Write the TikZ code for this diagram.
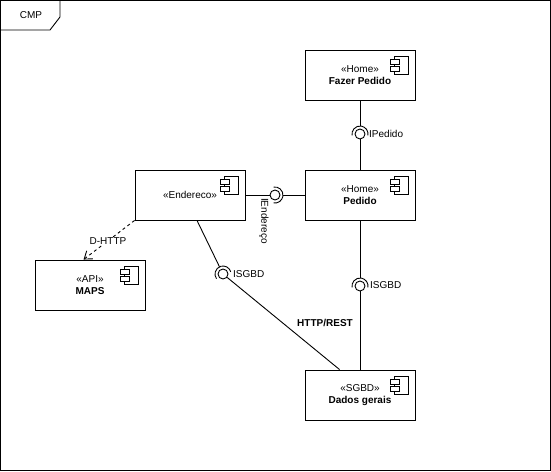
\documentclass[tikz,border=0pt]{standalone}
\usepackage{fontspec}
\setmainfont{Liberation Sans}
\usetikzlibrary{arrows.meta,calc}

% component icon in the top right corner of a component box
\newcommand\compicon[1]{%
  \draw[icon] ([shift={(-21,7)}]#1.north east) rectangle ([shift={(-7,25)}]#1.north east);
  \draw[icon,fill=white] ([shift={(-25,10)}]#1.north east) rectangle ([shift={(-16,15)}]#1.north east);
  \draw[icon,fill=white] ([shift={(-25,17)}]#1.north east) rectangle ([shift={(-16,22)}]#1.north east);
}

\begin{document}
\begin{tikzpicture}[x=1pt,y=-1pt,
  every node/.style={font=\fontsize{10}{12}\selectfont, inner sep=0pt},
  comp/.style={draw, line width=0.9pt, minimum width=110pt, minimum height=50pt,
    align=center, fill=white},
  icon/.style={line width=0.9pt},
  ball/.style={draw, circle, line width=0.9pt, minimum size=10pt},
  wire/.style={line width=0.9pt},
  socket/.style={line width=0.9pt},
  dep/.style={line width=0.9pt, dash pattern=on 3pt off 3pt,
    -{Straight Barb[length=7pt,width=10pt]}},
]
\useasboundingbox (0,0) rectangle (551,471);

% outer frame with its name tab
\draw[wire] (0.5,0.5) rectangle (550.5,470.5);
\draw[wire] (0.5,30) -- (50,30) -- (60,17) -- (60,0.5);
\node (lcmp) at (31,15) {CMP};

% components
\node[comp] (fazer)    at (360,75)  {«Home»\\\textbf{Fazer Pedido}};
\node[comp] (pedido)   at (360,195) {«Home»\\\textbf{Pedido}};
\node[comp] (endereco) at (190,195) {«Endereco»};
\node[comp] (maps)     at (90,285)  {«API»\\\textbf{MAPS}};
\node[comp] (dados)    at (360,395) {«SGBD»\\\textbf{Dados gerais}};
\foreach \c in {fazer,pedido,endereco,maps,dados} {\compicon{\c}}

% provided interfaces (balls)
\node[ball] (bpedido)   at (360,134) {};
\node[ball] (bendereco) at (275,195) {};
\node[ball] (bsgbda)    at (360,286) {};
\node[ball] (bsgbdb)    at (223,274) {};

% required interfaces (sockets) around the balls
\draw[socket] ([shift={(10:8)}]bpedido.center) arc[start angle=10, end angle=-190, radius=8];
\draw[socket] ([shift={(100:8)}]bendereco.center) arc[start angle=100, end angle=-100, radius=8];
\draw[socket] ([shift={(10:8)}]bsgbda.center) arc[start angle=10, end angle=-190, radius=8];
\draw[socket] ([shift={(-16:8)}]bsgbdb.center) arc[start angle=-16, end angle=-216, radius=8];

% socket ends
\coordinate (spedido)   at ([shift={(-90:8)}]bpedido.center);
\coordinate (sendereco) at ([shift={(0:8)}]bendereco.center);
\coordinate (ssgbda)    at ([shift={(-90:8)}]bsgbda.center);
\coordinate (ssgbdb)    at ([shift={(-116:8)}]bsgbdb.center);

% connectors
\draw[wire] (fazer.south) -- (spedido);
\draw[wire] (bpedido) -- (pedido.north);
\draw[wire] (endereco.east) -- (bendereco);
\draw[wire] (sendereco) -- (pedido.west);
\draw[wire] (pedido.south) -- (ssgbda);
\draw[wire] (bsgbda) -- (dados.north);
\draw[wire] ($(endereco.south)+(7,0)$) -- (ssgbdb);
\draw[wire] (bsgbdb) -- ($(dados.north west)+(35,0)$);
\draw[dep] (endereco.south west) -- ($(maps.north west)+(49,0)$);

% connector labels
\node[anchor=west] (lpedido) at (369,134) {IPedido};
\node[rotate=-90] (lendereco) at (264,221) {IEndereço};
\node[anchor=west] (lsgbda) at (370,285) {ISGBD};
\node[anchor=west] (lsgbdb) at (233,274) {ISGBD};
\node[font=\fontsize{10}{12}\selectfont\bfseries] (lhttp) at (325,323) {HTTP/REST};
\node[fill=white, inner sep=1pt] (ldhttp) at (108,241) {D-HTTP};
\end{tikzpicture}
\end{document}
